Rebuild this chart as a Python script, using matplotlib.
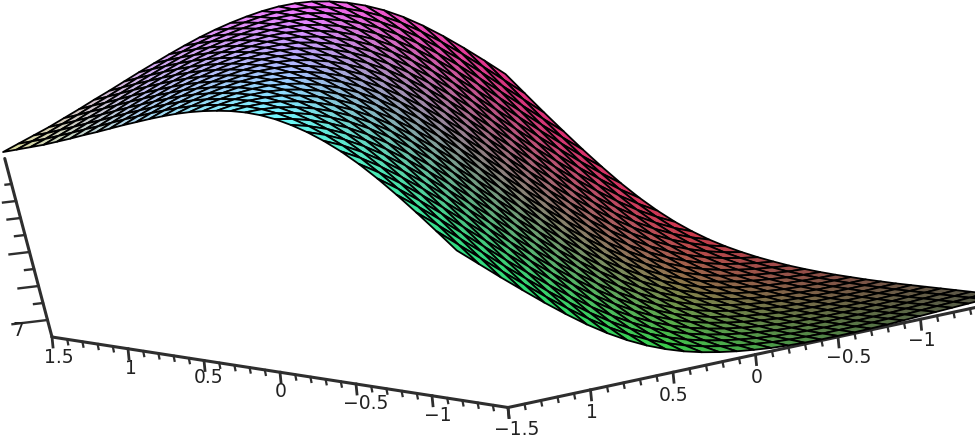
import numpy as np
import matplotlib
matplotlib.use("Agg")
import matplotlib.pyplot as plt
from matplotlib.collections import PolyCollection

# height of the surface along x + y = -3.0, -2.9, ..., 3.0
ridge_z = [
    6.68, 6.67, 6.65, 6.63, 6.61, 6.59, 6.57, 6.55, 6.54, 6.53,
    6.53, 6.53, 6.54, 6.56, 6.59, 6.64, 6.70, 6.78, 6.88, 7.01,
    7.18, 7.39, 7.65, 7.96, 8.32, 8.73, 9.17, 9.64, 10.12, 10.62,
    11.12, 11.62, 12.10, 12.55, 12.96, 13.32, 13.62, 13.86, 14.05, 14.19,
    14.29, 14.34, 14.35, 14.32, 14.26, 14.18, 14.08, 13.96, 13.82, 13.67,
    13.51, 13.35, 13.18, 13.01, 12.85, 12.68, 12.52, 12.36, 12.22, 12.08,
    11.94,
]
x_vals = [-1.5, -1.4, -1.3, -1.2, -1.1, -1.0, -0.9, -0.8, -0.7, -0.6, -0.5,
          -0.4, -0.3, -0.2, -0.1, 0.0, 0.1, 0.2, 0.3, 0.4, 0.5,
          0.6, 0.7, 0.8, 0.9, 1.0, 1.1, 1.2, 1.3, 1.4, 1.5]
y_vals = list(x_vals)
z_floor = 6.5
z_ticks = [7, 7.5, 8, 8.5, 9, 9.5, 10, 10.5, 11]
x_labels = ['1.5', '1', '0.5', '0', '\u22120.5', '\u22121']
x_label_at = [1.5, 1, 0.5, 0, -0.5, -1]
y_labels = ['1', '0.5', '0', '\u22120.5', '\u22121']
y_label_at = [1, 0.5, 0, -0.5, -1]

n = len(x_vals)
Z = np.array([[ridge_z[i + j] for j in range(n)] for i in range(n)])


def proj(x, y, z):
    x, y, z = np.asarray(x, float), np.asarray(y, float), np.asarray(z, float)
    t, s, h = 1.5 - x, 1.5 - y, z - z_floor
    return 52 + t * 152 + s * 165 - (9 + 0.7 * t) * h, 338 + t * 23.5 - s * 35.3 - 34 * h


fig = plt.figure(figsize=(9.75, 4.39), dpi=100)
ax = fig.add_axes([0, 0, 1, 1])
ax.set_xlim(0, 975)
ax.set_ylim(439, 0)
ax.axis('off')

cu = [-3, -2, -1, 0, 1, 2, 3]
c_mid = [85, 105, 130, 135, 180, 190, 220]
c_k = [10, 25, 38, 30, 35, 25, 10]
c_blue = [70, 70, 75, 130, 255, 240, 150]

polys, cols, depth = [], [], []
for i in range(n - 1):
    for j in range(n - 1):
        xs = [x_vals[i], x_vals[i + 1], x_vals[i + 1], x_vals[i]]
        ys = [y_vals[j], y_vals[j], y_vals[j + 1], y_vals[j + 1]]
        zs = [Z[i, j], Z[i + 1, j], Z[i + 1, j + 1], Z[i, j + 1]]
        sx, sy = proj(xs, ys, zs)
        polys.append(np.column_stack([sx, sy]))
        u, v = np.mean(xs) + np.mean(ys), np.mean(xs) - np.mean(ys)
        m, k = np.interp(u, cu, c_mid), np.interp(u, cu, c_k)
        cols.append((np.clip(m + k * v, 0, 255) / 255,
                     np.clip(m - k * v, 0, 255) / 255,
                     np.interp(u, cu, c_blue) / 255))
        depth.append(v)
order = np.argsort(depth)[::-1]
ax.add_collection(PolyCollection([polys[o] for o in order],
                                 facecolors=[cols[o] for o in order],
                                 edgecolors='black', linewidths=1.3, zorder=3))

axc = '#2e2e2e'
for t in x_vals:
    major = abs(t * 2 - round(t * 2)) < 1e-6
    ln, lw = (10, 2.0) if major else (5, 1.6)
    for sx, sy in (proj(t, 1.5, z_floor), proj(-1.5, t, z_floor)):
        ax.plot([sx, sx + 1], [sy, sy + ln], color=axc, lw=lw, zorder=2)

a = proj(1.5, 1.5, z_floor)
b = proj(-1.5, 1.5, z_floor)
c = proj(-1.5, -1.5, z_floor)
d = proj(1.5, 1.5, 11.75)
for p, q in [(a, b), (b, c), (a, d)]:
    ax.plot([p[0], q[0]], [p[1], q[1]], color=axc, lw=2.2, zorder=2, solid_capstyle='round')
z_len = [35, 9, 20, 9, 20, 10, 13, 13, 6]
for t, L in zip(z_ticks, z_len):
    sx, sy = proj(1.5, 1.5, t)
    ax.plot([sx, sx - L], [sy, sy + L * 0.12], color=axc, lw=1.7, zorder=2)

fs = 13.5
tc = '#222222'
x_off = [(7, 20), (3, 19), (5, 16), (1, 18), (10, 19), (6, 19)]
for t, s, (dx, dy) in zip(x_label_at, x_labels, x_off):
    sx, sy = proj(t, 1.5, z_floor)
    ax.text(sx + dx, sy + dy, s, ha='center', va='center', fontsize=fs, color=tc)
ax.text(517, 430, '\u22121.5', ha='center', va='center', fontsize=fs, color=tc)
y_off = [(1, 22), (1, 22), (1, 22), (11, 20), (1, 20)]
for t, s, (dx, dy) in zip(y_label_at, y_labels, y_off):
    sx, sy = proj(-1.5, t, z_floor)
    ax.text(sx + dx, sy + dy, s, ha='center', va='center', fontsize=fs, color=tc)
ax.text(18, 331, '7', ha='center', va='center', fontsize=fs, color=tc)
fig.savefig('out.png', dpi=100)
